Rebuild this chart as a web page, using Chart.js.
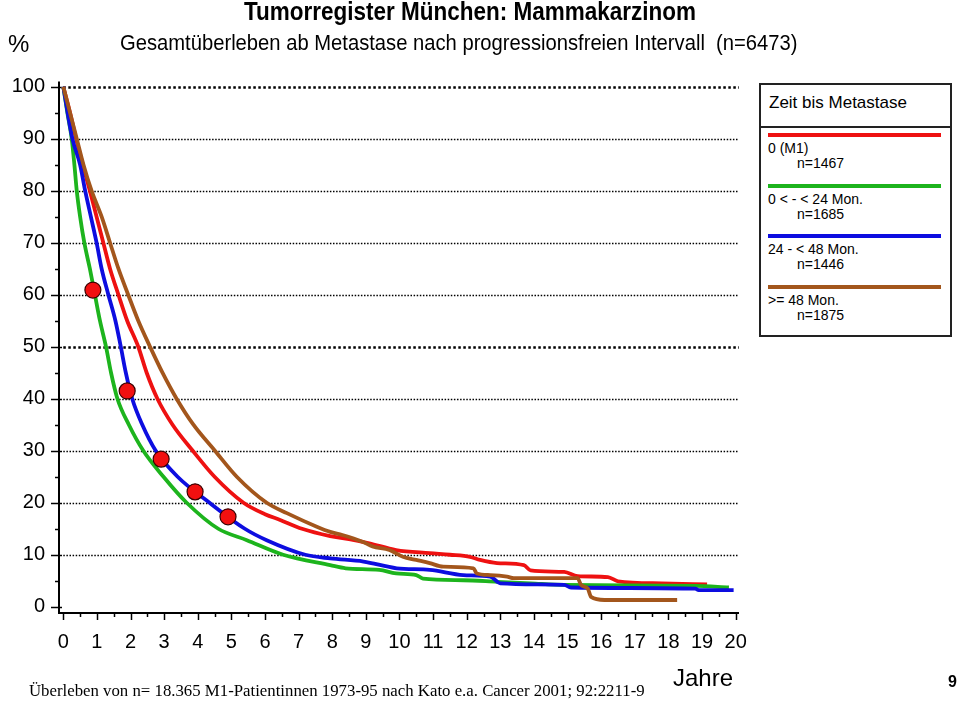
<!DOCTYPE html>
<html>
<head>
<meta charset="utf-8">
<script src="https://cdn.jsdelivr.net/npm/chart.js@4"></script>
<style>
  html, body { margin: 0; padding: 0; background: #fff; }
  #wrap { position: relative; width: 960px; height: 704px; overflow: hidden; font-family: 'Liberation Sans', Arial, sans-serif; }
  #chart { position: absolute; left: 0; top: 0; }
  .txt { position: absolute; color: #000; white-space: nowrap; }
  #legend { position: absolute; left: 759px; top: 83px; width: 189px; height: 250px; border: 2px solid #222; background: #fff; color: #000; }
  #legend .head { position: absolute; left: 8px; top: 8px; font-size: 17px; }
  #legend .sep { position: absolute; left: 0; right: 0; top: 41px; border-top: 2px solid #222; }
  #legend .mark { position: absolute; left: 7px; width: 173px; height: 4px; }
  #legend .lab { position: absolute; left: 7px; font-size: 14px; line-height: 15px; white-space: nowrap; }
  #legend .lab span { display: block; padding-left: 29px; }
</style>
</head>
<body>
<div id="wrap">
  <canvas id="chart" width="960" height="704"></canvas>
  <div class="txt" style="left:0;width:940px;top:-4px;text-align:center;font-size:26px;font-weight:bold;transform:scaleX(0.865);transform-origin:470px 0;">Tumorregister München: Mammakarzinom</div>
  <div class="txt" style="left:8px;top:30px;font-size:24px;">%</div>
  <div class="txt" style="left:120px;top:30px;font-size:22px;transform:scaleX(0.918);transform-origin:0 0;">Gesamtüberleben ab Metastase nach progressionsfreien Intervall&nbsp; (n=6473)</div>
  <div class="txt" style="left:673px;top:664px;font-size:24px;">Jahre</div>
  <div class="txt" style="left:948px;top:673px;font-size:16px;font-weight:bold;">9</div>
  <div class="txt" style="left:29px;top:681px;font-size:16.8px;font-family:'Liberation Serif','Times New Roman',serif;">Überleben von n= 18.365 M1-Patientinnen 1973-95 nach Kato e.a. Cancer 2001; 92:2211-9</div>
  <div id="legend"></div>
</div>
<script>
// tick values
const xTicks = [0, 1, 2, 3, 4, 5, 6, 7, 8, 9, 10, 11, 12, 13, 14, 15, 16, 17, 18, 19, 20];
const yTicks = [0, 10, 20, 30, 40, 50, 60, 70, 80, 90, 100];

// series: years after metastasis / survival in %
const redT = [0, 0.2, 0.38, 0.58, 0.79, 0.99, 1.19, 1.39, 1.64, 1.9, 2.23, 2.48, 2.8, 3.25, 3.85, 4.5, 5.36, 6.0, 6.45, 7.1, 7.94, 8.5, 9.1, 9.9, 10.9, 11.5, 12.1, 12.4, 12.9, 13.7, 13.9, 14.9, 15.3, 16.2, 16.5, 17.8, 19.15];
const redS = [100, 95, 90, 85, 80, 75, 70, 65, 60, 55, 50, 45, 40, 35, 30, 25, 20, 17.8, 16.7, 15.0, 13.6, 13.0, 12.2, 10.9, 10.3, 10.0, 9.6, 9.0, 8.4, 8.0, 7.0, 6.7, 5.9, 5.7, 4.9, 4.5, 4.3];

const greenT = [0, 0.12, 0.25, 0.33, 0.4, 0.5, 0.625, 0.79, 0.94, 1.09, 1.27, 1.42, 1.61, 1.95, 2.38, 2.98, 3.67, 4.61, 5.46, 6.54, 7.94, 8.4, 9.4, 9.9, 10.5, 10.7, 11.9, 12.9, 13.9, 14.9, 18.8, 19.8];
const greenS = [100, 95, 90, 85, 80, 75, 70, 65, 60, 55, 50, 45, 40, 35, 30, 25, 20, 15, 12.8, 10.0, 8.0, 7.4, 7.1, 6.4, 6.1, 5.4, 5.1, 4.8, 4.5, 4.2, 4.0, 3.7];

const blueT = [0, 0.27, 0.5, 0.65, 0.82, 0.99, 1.14, 1.34, 1.55, 1.71, 1.86, 2.05, 2.35, 2.75, 3.4, 4.35, 5.4, 6.05, 7.2, 7.94, 8.93, 9.92, 10.9, 11.9, 12.7, 13.0, 14.9, 15.1, 18.8, 18.9, 19.94];
const blueS = [100, 90, 85, 80, 75, 70, 65, 60, 55, 50, 45, 40, 35, 30, 25, 20, 15, 12.8, 10.0, 9.3, 8.7, 7.4, 7.1, 6.1, 5.8, 4.5, 4.2, 3.7, 3.5, 3.2, 3.2];

const brownT = [0, 0.4, 0.6, 0.84, 1.14, 1.39, 1.64, 1.93, 2.23, 2.58, 2.95, 3.37, 3.87, 4.51, 5.16, 6.05, 6.65, 7.54, 7.94, 8.3, 8.9, 9.2, 9.7, 10.1, 10.5, 10.9, 11.3, 12.2, 12.3, 12.7, 13.2, 13.4, 15.3, 15.4, 15.6, 15.7, 16.1, 18.26];
const brownS = [100, 90, 85, 80, 75, 70, 65, 60, 55, 50, 45, 40, 35, 30, 25, 20, 18.0, 15.4, 14.4, 13.8, 12.5, 11.6, 10.9, 9.6, 9.0, 8.4, 7.7, 7.4, 6.4, 6.1, 5.8, 5.5, 5.5, 4.2, 3.5, 1.9, 1.3, 1.3];

// Kato e.a. reference points
const katoT = [0.88, 1.9, 2.91, 3.92, 4.9];
const katoS = [60.9, 41.5, 28.4, 22.1, 17.3];

const groups = [
    { label: '0 (M1)', n: 'n=1467', color: '#ee1111', t: redT, s: redS },
    { label: '0 &lt; - &lt; 24 Mon.', n: 'n=1685', color: '#1db41d', t: greenT, s: greenS },
    { label: '24 - &lt; 48 Mon.', n: 'n=1446', color: '#0d0de0', t: blueT, s: blueS },
    { label: '&gt;= 48 Mon.', n: 'n=1875', color: '#a3561c', t: brownT, s: brownS },
];

const toPoints = (t, s) => t.map((x, i) => ({ x: x, y: s[i] }));

// legend box (html)
const legend = document.getElementById('legend');
legend.innerHTML = '<div class="head">Zeit bis Metastase</div><div class="sep"></div>';
groups.forEach((g, i) => {
    const top = 48 + i * 50.7;
    legend.innerHTML += '<div class="mark" style="top:' + top + 'px;background:' + g.color + '"></div>' +
        '<div class="lab" style="top:' + (top + 8) + 'px">' + g.label + '<span>' + g.n + '</span></div>';
});

// dotted grid, axis lines and tick marks
const axesPlugin = {
    id: 'axesPlugin',
    beforeDatasetsDraw(chart) {
        const { ctx, chartArea, scales } = chart;
        const x = scales.x, y = scales.y;
        const x0 = x.getPixelForValue(0);
        ctx.save();
        ctx.strokeStyle = '#000';
        yTicks.forEach(v => {
            if (v === 0) return;
            const py = Math.round(y.getPixelForValue(v)) + 0.5;
            const thick = (v === 100 || v === 50);
            ctx.lineWidth = thick ? 2.6 : 1.3;
            ctx.setLineDash(thick ? [2.5, 2.5] : [1.5, 1.6]);
            ctx.beginPath();
            ctx.moveTo(x0, py);
            ctx.lineTo(chartArea.right, py);
            ctx.stroke();
        });
        ctx.setLineDash([]);

        // axes
        ctx.lineWidth = 2;
        ctx.beginPath();
        ctx.moveTo(chartArea.left, chartArea.top);
        ctx.lineTo(chartArea.left, chartArea.bottom);
        ctx.lineTo(chartArea.right, chartArea.bottom);
        ctx.stroke();

        // y ticks, minor ones every 5
        ctx.lineWidth = 1.5;
        for (let v = 0; v <= 100; v += 5) {
            const py = Math.round(y.getPixelForValue(v)) + 0.5;
            ctx.beginPath();
            if (v % 10 === 0) {
                ctx.moveTo(chartArea.left - 8, py);
                ctx.lineTo(chartArea.left + 3, py);
            } else {
                ctx.moveTo(chartArea.left - 4, py);
                ctx.lineTo(chartArea.left, py);
            }
            ctx.stroke();
        }
        // x ticks, minor ones every half year
        for (let v = 0; v <= 20; v += 0.5) {
            const px = Math.round(x.getPixelForValue(v)) + 0.5;
            ctx.beginPath();
            ctx.moveTo(px, chartArea.bottom);
            ctx.lineTo(px, chartArea.bottom + (v % 1 === 0 ? 7 : 4));
            ctx.stroke();
        }
        ctx.restore();
    }
};

const datasets = groups.map((g, i) => ({
    data: toPoints(g.t, g.s),
    borderColor: g.color,
    borderWidth: 3.8,
    pointRadius: 0,
    cubicInterpolationMode: 'monotone',
    fill: false,
    order: 4 - i
}));
datasets.push({
    data: toPoints(katoT, katoS),
    showLine: false,
    pointRadius: 8,
    pointBackgroundColor: '#f21010',
    pointBorderColor: '#3a0000',
    pointBorderWidth: 1.2,
    order: 0
});

const font = { family: "'Liberation Sans', Arial, sans-serif", size: 20 };

new Chart(document.getElementById('chart').getContext('2d'), {
    type: 'line',
    data: { datasets: datasets },
    options: {
        responsive: false,
        animation: false,
        layout: { padding: { left: 0, right: 221, top: 81.5, bottom: 0 } },
        plugins: {
            legend: { display: false },
            tooltip: { enabled: false }
        },
        scales: {
            x: {
                type: 'linear',
                min: -0.128,
                max: 20.1,
                afterBuildTicks: (s) => { s.ticks = xTicks.map(v => ({ value: v })); },
                afterFit: (s) => { s.height = 91; },
                grid: { display: false, drawTicks: false },
                border: { display: false },
                ticks: { autoSkip: false, maxRotation: 0, padding: 17, color: '#000', font: font }
            },
            y: {
                type: 'linear',
                min: -1.2,
                max: 101,
                afterBuildTicks: (s) => { s.ticks = yTicks.map(v => ({ value: v })); },
                afterFit: (s) => { s.width = 59; },
                grid: { display: false, drawTicks: false },
                border: { display: false },
                ticks: { padding: 14, color: '#000', font: font }
            }
        }
    },
    plugins: [axesPlugin]
});
</script>
</body>
</html>
